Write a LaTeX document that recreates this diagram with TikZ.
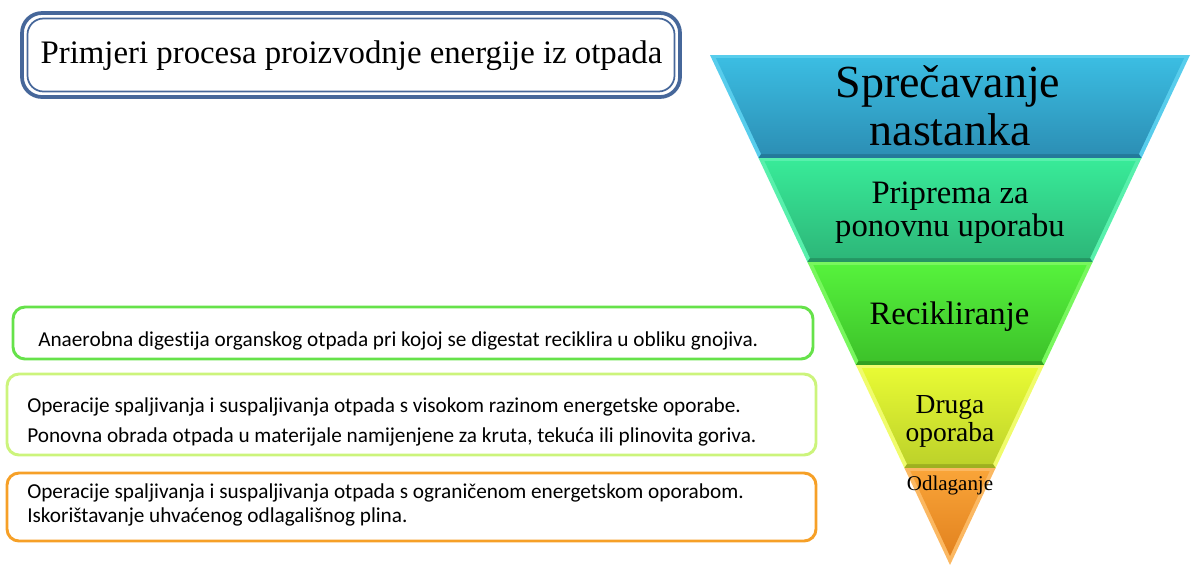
\documentclass[tikz,border=0pt]{standalone}
\usepackage{fontspec}
\setmainfont{Liberation Serif}
\newfontfamily\calib[Ligatures=NoCommon]{Carlito}
\definecolor{titleblue}{HTML}{46679A}
\definecolor{boxA}{HTML}{66E24A}
\definecolor{boxB}{HTML}{CCF47C}
\definecolor{boxC}{HTML}{F6A027}
\definecolor{bOneT}{HTML}{3BBDE2}\definecolor{bOneB}{HTML}{2C8FB5}\definecolor{bOneR}{HTML}{58CDEC}\definecolor{bOneD}{HTML}{23799A}
\definecolor{bTwoT}{HTML}{38EA98}\definecolor{bTwoB}{HTML}{2DB779}\definecolor{bTwoR}{HTML}{58F0AC}\definecolor{bTwoD}{HTML}{249663}
\definecolor{bThrT}{HTML}{56F23C}\definecolor{bThrB}{HTML}{3DC22A}\definecolor{bThrR}{HTML}{78F75E}\definecolor{bThrD}{HTML}{32A022}
\definecolor{bFouT}{HTML}{E8FA34}\definecolor{bFouB}{HTML}{BDD22A}\definecolor{bFouR}{HTML}{F0FC6C}\definecolor{bFouD}{HTML}{9EB020}
\definecolor{bFivT}{HTML}{F9A438}\definecolor{bFivB}{HTML}{E2821F}\definecolor{bFivR}{HTML}{FBB862}\definecolor{bFivD}{HTML}{C06A15}
\begin{document}
\begin{tikzpicture}[x=0.75bp,y=-0.75bp,
  infobox/.style={line width=2.2bp,rounded corners=9bp},
  infotext/.style={anchor=base west,inner sep=0pt,font=\calib\fontsize{16pt}{19pt}\selectfont},
  plabel/.style={anchor=base,inner sep=0pt}]
\useasboundingbox (0,0) rectangle (1192,567);
% title box
\draw[titleblue,line width=2.8bp,rounded corners=15bp] (22,13) rectangle (680,97);
\draw[titleblue,line width=1.3bp,rounded corners=12bp] (27.5,18.5) rectangle (674.5,91.5);
\node[plabel,font=\fontsize{24.7pt}{29pt}\selectfont] (title) at (351.5,63) {Primjeri procesa proizvodnje energije iz otpada};
% pyramid band 1
\fill[bOneR] (710,55) -- (1190,55) -- (1141.5,158) -- (758.5,158) -- cycle;
\fill[bOneD] (761.1,154) -- (1138.9,154) -- (1141.5,158) -- (758.5,158) -- cycle;
\shade[top color=bOneT,bottom color=bOneB] (715.9,58) -- (1184.1,58) -- (1138.9,154) -- (761.1,154) -- cycle;
% band 2
\fill[bTwoR] (758.5,158) -- (1141.5,158) -- (1092.6,262) -- (807.4,262) -- cycle;
\fill[bTwoD] (810,258) -- (1090,258) -- (1092.6,262) -- (807.4,262) -- cycle;
\shade[top color=bTwoT,bottom color=bTwoB] (764.4,161) -- (1135.6,161) -- (1090,258) -- (810,258) -- cycle;
% band 3
\fill[bThrR] (807.4,262) -- (1092.6,262) -- (1044.1,365) -- (855.9,365) -- cycle;
\fill[bThrD] (858.5,361) -- (1041.5,361) -- (1044.1,365) -- (855.9,365) -- cycle;
\shade[top color=bThrT,bottom color=bThrB] (813.3,265) -- (1086.7,265) -- (1041.5,361) -- (858.5,361) -- cycle;
% band 4
\fill[bFouR] (855.9,365) -- (1044.1,365) -- (995.6,468) -- (904.4,468) -- cycle;
\fill[bFouD] (907,464) -- (993,464) -- (995.6,468) -- (904.4,468) -- cycle;
\shade[top color=bFouT,bottom color=bFouB] (861.8,368) -- (1038.2,368) -- (993,464) -- (907,464) -- cycle;
% band 5
\fill[bFivR] (904.4,468) -- (995.6,468) -- (950,565) -- cycle;
\shade[top color=bFivT,bottom color=bFivB] (910.3,471) -- (989.7,471) -- (950,556) -- cycle;
% pyramid labels
\node[plabel,font=\fontsize{34.6pt}{40pt}\selectfont] (l1a) at (948,97) {Sprečavanje};
\node[plabel,font=\fontsize{34.6pt}{40pt}\selectfont] (l1b) at (950,145) {nastanka};
\node[plabel,font=\fontsize{24.6pt}{29pt}\selectfont] (l2a) at (950,203) {Priprema za};
\node[plabel,font=\fontsize{24.6pt}{29pt}\selectfont] (l2b) at (950,236) {ponovnu uporabu};
\node[plabel,font=\fontsize{24.6pt}{29pt}\selectfont] (l3) at (949.5,324) {Recikliranje};
\node[plabel,font=\fontsize{20.7pt}{24pt}\selectfont] (l4a) at (950,413) {Druga};
\node[plabel,font=\fontsize{20.7pt}{24pt}\selectfont] (l4b) at (950,441) {oporaba};
\node[plabel,font=\fontsize{15.8pt}{19pt}\selectfont] (l5) at (950,490) {Odlaganje};
% info boxes
\draw[infobox,boxA] (13,307) rectangle (813,359);
\draw[infobox,boxB] (7,374) rectangle (816,455);
\draw[infobox,boxC] (7,473) rectangle (816,541);
\node[infotext] (ta) at (38,346) {Anaerobna digestija organskog otpada pri kojoj se digestat reciklira u obliku gnojiva.};
\node[infotext] (tb1) at (27,412) {Operacije spaljivanja i suspaljivanja otpada s visokom razinom energetske oporabe.};
\node[infotext] (tb2) at (27,442) {Ponovna obrada otpada u materijale namijenjene za kruta, tekuća ili plinovita goriva.};
\node[infotext] (tc1) at (27,498) {Operacije spaljivanja i suspaljivanja otpada s ograničenom energetskom oporabom.};
\node[infotext] (tc2) at (27,522) {Iskorištavanje uhvaćenog odlagališnog plina.};
\end{tikzpicture}
\end{document}
